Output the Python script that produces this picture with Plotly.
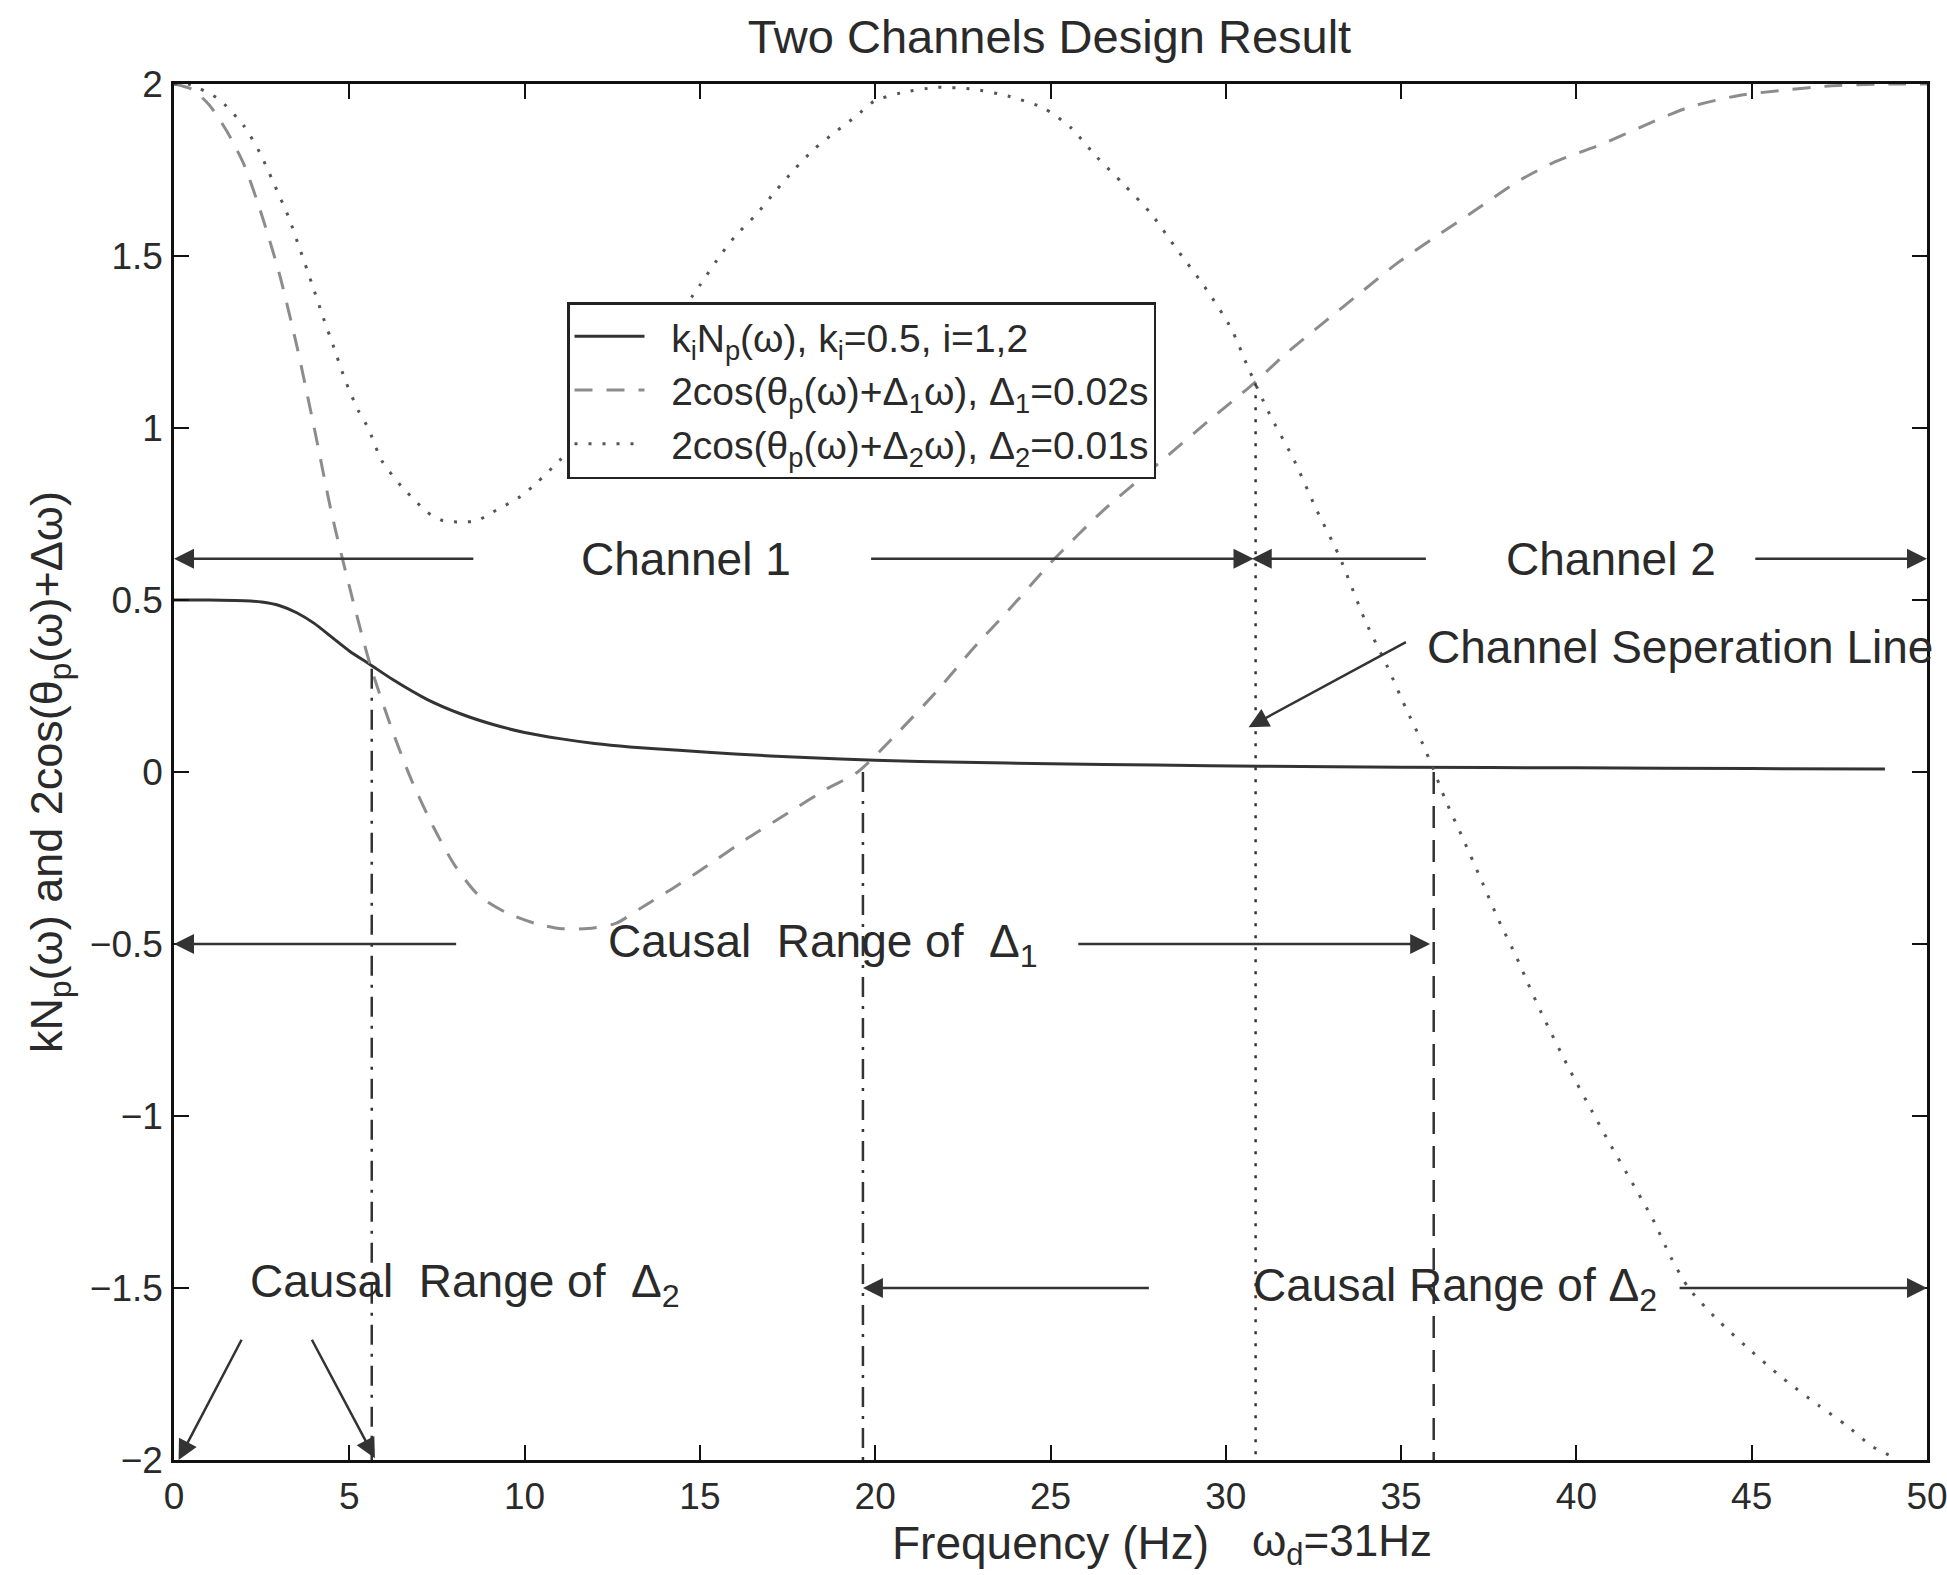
import plotly.graph_objects as go

# ---------------- data ----------------
freq_knp = [0, 1, 2, 2.5, 3.0, 3.5, 4.0, 4.5, 5.0, 5.6, 6.25, 7.2, 8.15, 9.1, 10, 11, 12,
            13, 14.4, 16, 18, 20, 22.5, 25, 28, 31, 35, 40, 45, 48.8]
val_knp = [0.5, 0.5, 0.498, 0.494, 0.484, 0.463, 0.432, 0.392, 0.352, 0.312, 0.268, 0.212,
           0.17, 0.138, 0.115, 0.097, 0.083, 0.073, 0.063, 0.052, 0.042, 0.034, 0.028,
           0.024, 0.02, 0.017, 0.014, 0.012, 0.01, 0.009]

freq_d1 = [0, 0.5, 1.0, 1.5, 2.0, 2.5, 3.0, 3.5, 4.0, 4.5, 5.0, 5.6, 6.3, 6.8, 7.4, 8.0,
           8.7, 9.5, 10.3, 11.0, 11.8, 12.6, 13.4, 14.2, 15.1, 16.4, 17.5, 18.6, 19.5,
           20.7, 21.8, 22.8, 23.8, 25.06, 26.5, 28.0, 29.5, 30.8, 31.7, 32.8, 33.9, 34.9,
           36.0, 37.1, 38.3, 39.4, 40.7, 42.0, 43.2, 44.6, 45.9, 47.2, 48.7, 50]
val_d1 = [2.0, 1.985, 1.94, 1.864, 1.765, 1.62, 1.45, 1.24, 1.0, 0.75, 0.54, 0.31, 0.10,
          -0.03, -0.16, -0.27, -0.36, -0.41, -0.44, -0.455, -0.455, -0.44, -0.39, -0.34,
          -0.28, -0.19, -0.12, -0.05, 0.0, 0.12, 0.24, 0.36, 0.47, 0.614, 0.76, 0.89,
          1.02, 1.13, 1.215, 1.307, 1.398, 1.48, 1.557, 1.632, 1.715, 1.774, 1.824,
          1.882, 1.932, 1.966, 1.982, 1.994, 2.0, 2.0]

freq_d2 = [0, 0.4, 1.26, 1.98, 2.45, 2.83, 3.26, 3.59, 3.93, 4.26, 4.54, 4.88, 5.26, 5.54,
           5.92, 6.49, 6.87, 7.21, 7.68, 8.16, 8.63, 9.1, 9.87, 10.34, 11.0, 12.0, 13.0,
           14.0, 15.0, 15.5, 16.0, 16.6, 17.17, 17.68, 18.25, 18.82, 19.46, 19.97, 20.73,
           21.75, 22.77, 23.79, 24.8, 25.57, 26.3, 27.1, 27.86, 28.6, 29.4, 30.15, 30.66,
           31.25, 31.95, 32.58, 33.22, 33.98, 34.61, 35.12, 35.62, 35.9, 36.26, 36.77,
           37.27, 37.78, 38.3, 38.6, 39.0, 39.83, 40.44, 40.95, 41.57, 42.18, 42.69, 43.2,
           44.0, 44.84, 45.86, 46.89, 47.71, 48.43, 49.0]
val_d2 = [2.0, 2.0, 1.957, 1.88, 1.80, 1.715, 1.615, 1.52, 1.42, 1.32, 1.24, 1.14, 1.05,
          1.0, 0.906, 0.83, 0.79, 0.756, 0.73, 0.727, 0.73, 0.756, 0.80, 0.84, 0.906,
          1.01, 1.14, 1.27, 1.415, 1.49, 1.557, 1.62, 1.69, 1.75, 1.81, 1.857, 1.907,
          1.95, 1.974, 1.99, 1.985, 1.965, 1.93, 1.874, 1.79, 1.707, 1.624, 1.52, 1.41,
          1.29, 1.17, 1.04, 0.906, 0.764, 0.631, 0.439, 0.306, 0.189, 0.081, 0.013,
          -0.08, -0.195, -0.31, -0.43, -0.54, -0.61, -0.70, -0.87, -0.985, -1.08, -1.19,
          -1.30, -1.41, -1.50, -1.59, -1.67, -1.76, -1.84, -1.90, -1.96, -1.99]

legend_names = [
    "\u00a0\u00a0k<sub>i</sub>N<sub>p</sub>(ω), k<sub>i</sub>=0.5, i=1,2",
    "\u00a0\u00a02cos(θ<sub>p</sub>(ω)+Δ<sub>1</sub>ω), Δ<sub>1</sub>=0.02s",
    "\u00a0\u00a02cos(θ<sub>p</sub>(ω)+Δ<sub>2</sub>ω), Δ<sub>2</sub>=0.01s",
]

# vertical marker lines: frequency, top value, bottom value, dash style
vline_freq = [5.64, 19.65, 30.85, 35.93]
vline_top = [0.30, 0.0, 1.13, 0.0]
vline_bottom = [-2.0, -2.0, -2.0, -2.0]
vline_dash = ["20px,9px,3px,9px", "20px,9px,3px,9px", "3px,9px", "22px,12px"]

# arrows: head (x, y) and tail (x, y)
arrow_head_x = [0.0, 30.79, 30.74, 50.0, 30.65, 0.0, 35.83, 19.65, 50.0, 0.13, 5.73]
arrow_head_y = [0.62, 0.62, 0.62, 0.62, 0.13, -0.5, -0.5, -1.5, -1.5, -2.0, -1.995]
arrow_tail_x = [8.58, 19.84, 35.75, 45.06, 35.18, 8.09, 25.75, 27.85, 42.9, 1.95, 3.91]
arrow_tail_y = [0.62, 0.62, 0.62, 0.62, 0.38, -0.5, -0.5, -1.5, -1.5, -1.646, -1.646]

# text labels in the plot
label_text = ["Channel 1", "Channel 2", "Channel Seperation Line",
              "Causal\u00a0\u00a0Range of\u00a0\u00a0Δ<sub>1</sub>",
              "Causal Range of Δ<sub>2</sub>",
              "Causal\u00a0\u00a0Range of\u00a0\u00a0Δ<sub>2</sub>"]
label_x = [14.6, 41.0, 35.69, 12.32, 30.71, 2.1]
label_y = [0.62, 0.62, 0.363, -0.5, -1.5, -1.49]
label_anchor = ["center", "center", "left", "left", "left", "left"]

x_ticks = [0, 5, 10, 15, 20, 25, 30, 35, 40, 45, 50]
y_ticks = [-2, -1.5, -1, -0.5, 0, 0.5, 1, 1.5, 2]

FONT = "Liberation Sans, Arial, Helvetica, sans-serif"
TXT = "#2a2a2a"

fig = go.Figure()

fig.add_trace(go.Scatter(x=freq_knp, y=val_knp, mode="lines", name=legend_names[0],
                         line=dict(color="#333333", width=3, shape="spline",
                                   smoothing=0.7)))
fig.add_trace(go.Scatter(x=freq_d1, y=val_d1, mode="lines", name=legend_names[1],
                         line=dict(color="#8c8c8c", width=3, dash="18px,14px",
                                   shape="spline", smoothing=0.7)))
fig.add_trace(go.Scatter(x=freq_d2, y=val_d2, mode="lines", name=legend_names[2],
                         line=dict(color="#555555", width=3, dash="3px,11px",
                                   shape="spline", smoothing=0.7)))

for fx, top, bot, dsh in zip(vline_freq, vline_top, vline_bottom, vline_dash):
    fig.add_trace(go.Scatter(x=[fx, fx], y=[top, bot], mode="lines", showlegend=False,
                             line=dict(color="#333333", width=2.5, dash=dsh)))

annotations = []
for hx, hy, tx, ty in zip(arrow_head_x, arrow_head_y, arrow_tail_x, arrow_tail_y):
    annotations.append(dict(x=hx, y=hy, ax=tx, ay=ty, xref="x", yref="y", axref="x",
                            ayref="y", text="", showarrow=True, arrowhead=2,
                            arrowsize=1.6, arrowwidth=2.5, arrowcolor="#333333",
                            standoff=0, startstandoff=0))
for t, lx, ly, anc in zip(label_text, label_x, label_y, label_anchor):
    annotations.append(dict(x=lx, y=ly, xref="x", yref="y", text=t, showarrow=False,
                            xanchor=anc, yanchor="middle",
                            font=dict(family=FONT, size=46, color=TXT)))
annotations.append(dict(x=0.6136, y=-0.0392, xref="paper", yref="paper",
                        text="ω<sub>d</sub>=31Hz", showarrow=False, xanchor="left",
                        yanchor="top", font=dict(family=FONT, size=44, color=TXT)))

axis_common = dict(showline=True, linecolor="#111111", linewidth=2.5, mirror="ticks",
                   ticks="inside", ticklen=15, tickwidth=2, tickcolor="#111111",
                   showgrid=False, zeroline=False, ticklabeloverflow="allow",
                   tickfont=dict(family=FONT, size=37, color=TXT))

fig.update_layout(
    width=1947, height=1575,
    margin=dict(l=174, r=20, t=84, b=115),
    paper_bgcolor="white", plot_bgcolor="white",
    title=dict(text="Two Channels Design Result", x=0.539, xanchor="center",
               y=1 - 37 / 1575, yanchor="middle",
               font=dict(family=FONT, size=47, color=TXT)),
    xaxis=dict(range=[0, 50], tickvals=x_ticks, ticklabelstandoff=2,
               title=dict(text="Frequency (Hz)", standoff=2,
                          font=dict(family=FONT, size=46, color=TXT)),
               automargin=False, **axis_common),
    yaxis=dict(range=[-2, 2], tickvals=y_ticks, ticklabelstandoff=1,
               title=dict(text="kN<sub>p</sub>(ω) and 2cos(θ<sub>p</sub>(ω)+Δω)",
                          standoff=14, font=dict(family=FONT, size=45, color=TXT)),
               automargin=False, **axis_common),
    legend=dict(x=(567 - 174) / 1753, y=(1460 - 302) / 1376, xanchor="left",
                yanchor="top", bgcolor="white", bordercolor="#222222", borderwidth=2.5,
                font=dict(family=FONT, size=39, color=TXT), itemwidth=70,
                tracegroupgap=0),
    annotations=annotations,
    showlegend=True,
)

fig.write_html("out.html")
